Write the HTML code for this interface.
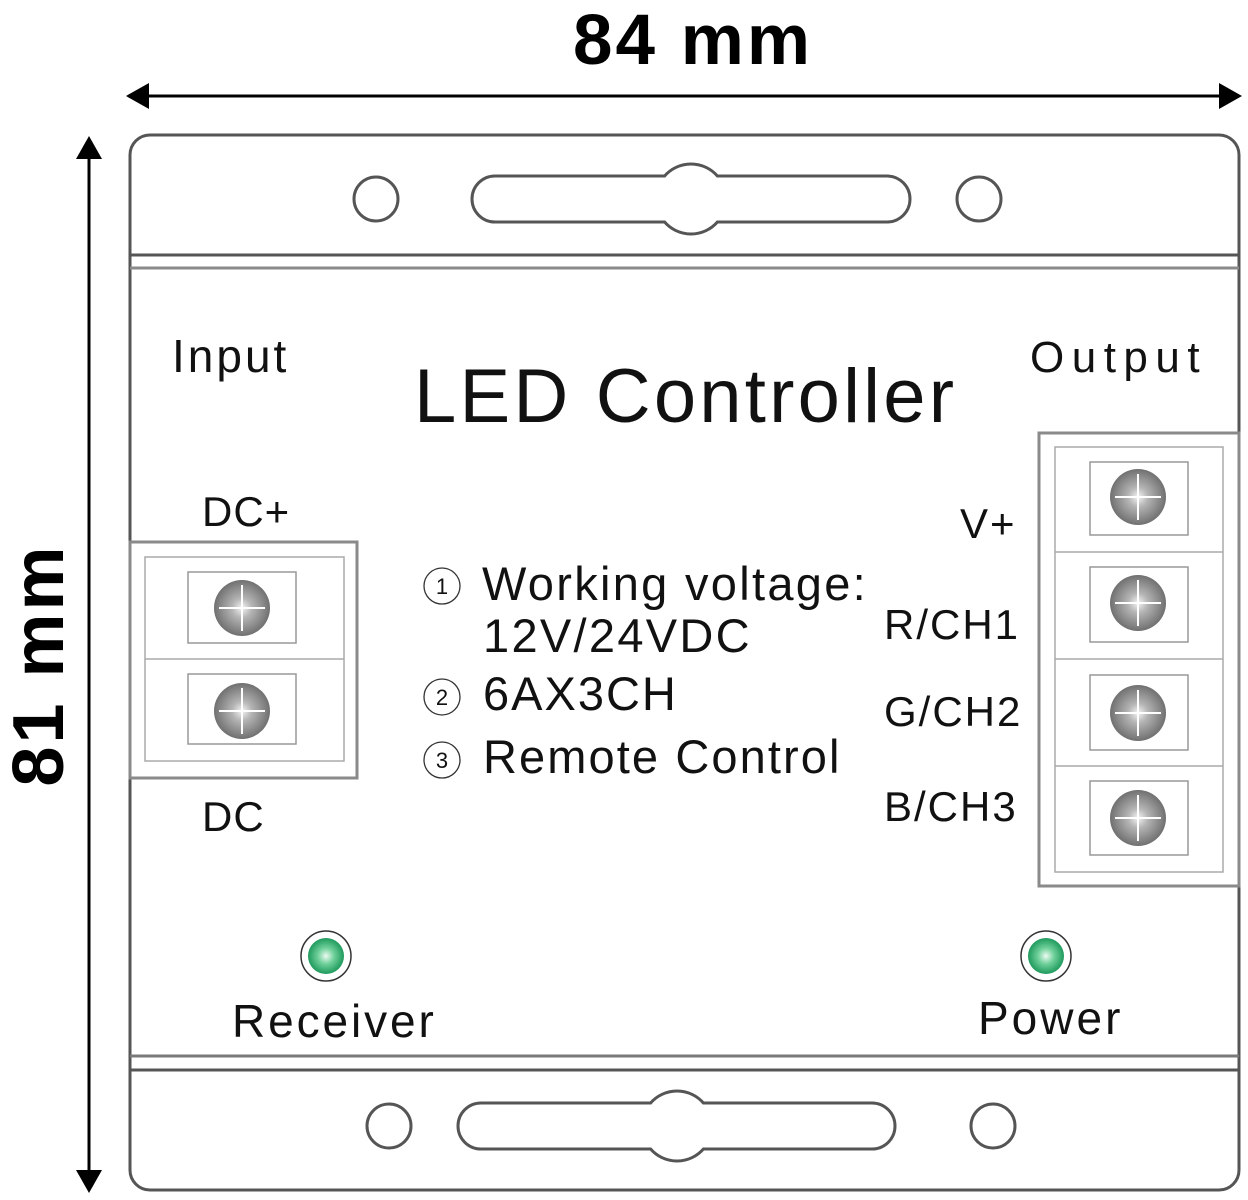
<!DOCTYPE html>
<html>
<head>
<meta charset="utf-8">
<style>
  html,body{margin:0;padding:0;background:#fff;}
  svg{display:block;}
  text{font-family:"Liberation Sans", Arial, sans-serif; fill:#111;}
</style>
</head>
<body>
<svg width="1248" height="1200" viewBox="0 0 1248 1200" xmlns="http://www.w3.org/2000/svg">
  <defs>
    <radialGradient id="screw" cx="50%" cy="50%" r="50%">
      <stop offset="0" stop-color="#f4f4f4"/>
      <stop offset="0.35" stop-color="#b5b5b5"/>
      <stop offset="1" stop-color="#707070"/>
    </radialGradient>
    <radialGradient id="led" cx="50%" cy="50%" r="50%">
      <stop offset="0" stop-color="#eefaf3"/>
      <stop offset="0.45" stop-color="#6fd09a"/>
      <stop offset="1" stop-color="#1e9a5c"/>
    </radialGradient>
  </defs>

  <!-- dimension text -->
  <text x="693" y="64" text-anchor="middle" font-size="71" font-weight="bold" letter-spacing="3" style="fill:#000">84 mm</text>
  <text transform="translate(63,665) rotate(-90)" text-anchor="middle" font-size="72" font-weight="bold" letter-spacing="3" style="fill:#000">81 mm</text>

  <!-- horizontal arrow -->
  <line x1="145" y1="96" x2="1222" y2="96" stroke="#000" stroke-width="3"/>
  <polygon points="126,96 149,83 149,109" fill="#000"/>
  <polygon points="1242,96 1219,83 1219,109" fill="#000"/>
  <!-- vertical arrow -->
  <line x1="89" y1="155" x2="89" y2="1175" stroke="#000" stroke-width="3"/>
  <polygon points="89,136 76,159 102,159" fill="#000"/>
  <polygon points="89,1193 76,1170 102,1170" fill="#000"/>

  <!-- body -->
  <rect x="130" y="135" width="1109" height="1055" rx="20" ry="20" fill="#fff" stroke="#555" stroke-width="3"/>
  <line x1="130" y1="255" x2="1239" y2="255" stroke="#555" stroke-width="3"/>
  <line x1="130" y1="268" x2="1239" y2="268" stroke="#8a8a8a" stroke-width="3"/>
  <line x1="130" y1="1056" x2="1239" y2="1056" stroke="#7a7a7a" stroke-width="3"/>
  <line x1="130" y1="1070" x2="1239" y2="1070" stroke="#555" stroke-width="3"/>

  <!-- top holes -->
  <circle cx="376" cy="199" r="22" fill="none" stroke="#555" stroke-width="3"/>
  <circle cx="979" cy="199" r="22" fill="none" stroke="#555" stroke-width="3"/>
  <path d="M495 176 L664.6 176 A35 35 0 0 1 717.4 176 L887 176 A23 23 0 0 1 887 222 L717.4 222 A35 35 0 0 1 664.6 222 L495 222 A23 23 0 0 1 495 176 Z" fill="none" stroke="#555" stroke-width="3"/>

  <!-- bottom holes -->
  <circle cx="389" cy="1126" r="22" fill="none" stroke="#555" stroke-width="3"/>
  <circle cx="993" cy="1126" r="22" fill="none" stroke="#555" stroke-width="3"/>
  <path d="M481 1103 L650.6 1103 A35 35 0 0 1 703.4 1103 L872 1103 A23 23 0 0 1 872 1149 L703.4 1149 A35 35 0 0 1 650.6 1149 L481 1149 A23 23 0 0 1 481 1103 Z" fill="none" stroke="#555" stroke-width="3"/>

  <!-- labels -->
  <text x="172" y="372" font-size="46" letter-spacing="3">Input</text>
  <text x="1030" y="372" font-size="44" letter-spacing="7.5">Output</text>
  <text x="414" y="422" font-size="76" letter-spacing="3.2">LED Controller</text>

  <!-- left terminal -->
  <rect x="130" y="542" width="227" height="236" fill="#fff" stroke="#8a8a8a" stroke-width="3"/>
  <rect x="145" y="557" width="199" height="204" fill="none" stroke="#aaa" stroke-width="1.5"/>
  <line x1="145" y1="659" x2="344" y2="659" stroke="#aaa" stroke-width="1.5"/>
  <rect x="188" y="572" width="108" height="71" fill="none" stroke="#999" stroke-width="1.5"/>
  <rect x="188" y="674" width="108" height="70" fill="none" stroke="#999" stroke-width="1.5"/>
  <g>
    <circle cx="242" cy="608" r="28" fill="url(#screw)"/>
    <line x1="219" y1="608" x2="265" y2="608" stroke="#fff" stroke-width="2"/>
    <line x1="242" y1="585" x2="242" y2="631" stroke="#fff" stroke-width="2"/>
    <circle cx="242" cy="711" r="28" fill="url(#screw)"/>
    <line x1="219" y1="711" x2="265" y2="711" stroke="#fff" stroke-width="2"/>
    <line x1="242" y1="688" x2="242" y2="734" stroke="#fff" stroke-width="2"/>
  </g>
  <text x="202" y="526" font-size="42" letter-spacing="1">DC+</text>
  <text x="202" y="831" font-size="42" letter-spacing="1">DC</text>

  <!-- right terminal -->
  <rect x="1039" y="433" width="200" height="453" fill="#fff" stroke="#8a8a8a" stroke-width="3"/>
  <rect x="1055" y="447" width="168" height="425" fill="none" stroke="#aaa" stroke-width="1.5"/>
  <line x1="1055" y1="552" x2="1223" y2="552" stroke="#aaa" stroke-width="1.5"/>
  <line x1="1055" y1="659" x2="1223" y2="659" stroke="#aaa" stroke-width="1.5"/>
  <line x1="1055" y1="766" x2="1223" y2="766" stroke="#aaa" stroke-width="1.5"/>
  <rect x="1090" y="462" width="98" height="73" fill="none" stroke="#999" stroke-width="1.5"/>
  <rect x="1090" y="567" width="98" height="75" fill="none" stroke="#999" stroke-width="1.5"/>
  <rect x="1090" y="675" width="98" height="75" fill="none" stroke="#999" stroke-width="1.5"/>
  <rect x="1090" y="781" width="98" height="74" fill="none" stroke="#999" stroke-width="1.5"/>
  <g>
    <circle cx="1138" cy="497" r="28" fill="url(#screw)"/>
    <line x1="1115" y1="497" x2="1161" y2="497" stroke="#fff" stroke-width="2"/>
    <line x1="1138" y1="474" x2="1138" y2="520" stroke="#fff" stroke-width="2"/>
    <circle cx="1138" cy="603" r="28" fill="url(#screw)"/>
    <line x1="1115" y1="603" x2="1161" y2="603" stroke="#fff" stroke-width="2"/>
    <line x1="1138" y1="580" x2="1138" y2="626" stroke="#fff" stroke-width="2"/>
    <circle cx="1138" cy="713" r="28" fill="url(#screw)"/>
    <line x1="1115" y1="713" x2="1161" y2="713" stroke="#fff" stroke-width="2"/>
    <line x1="1138" y1="690" x2="1138" y2="736" stroke="#fff" stroke-width="2"/>
    <circle cx="1138" cy="818" r="28" fill="url(#screw)"/>
    <line x1="1115" y1="818" x2="1161" y2="818" stroke="#fff" stroke-width="2"/>
    <line x1="1138" y1="795" x2="1138" y2="841" stroke="#fff" stroke-width="2"/>
  </g>
  <text x="960" y="538" font-size="42" letter-spacing="2">V+</text>
  <text x="884" y="639" font-size="42" letter-spacing="2">R/CH1</text>
  <text x="884" y="726" font-size="42" letter-spacing="2">G/CH2</text>
  <text x="884" y="821" font-size="42" letter-spacing="2">B/CH3</text>

  <!-- features list -->
  <circle cx="442" cy="586" r="18" fill="none" stroke="#333" stroke-width="1.3"/>
  <text x="442" y="594" font-size="22" text-anchor="middle">1</text>
  <circle cx="442" cy="697" r="18" fill="none" stroke="#333" stroke-width="1.3"/>
  <text x="442" y="705" font-size="22" text-anchor="middle">2</text>
  <circle cx="442" cy="760" r="18" fill="none" stroke="#333" stroke-width="1.3"/>
  <text x="442" y="768" font-size="22" text-anchor="middle">3</text>
  <text x="482" y="600" font-size="47" letter-spacing="2.3">Working voltage:</text>
  <text x="483" y="652" font-size="47" letter-spacing="2.3">12V/24VDC</text>
  <text x="483" y="710" font-size="47" letter-spacing="2">6AX3CH</text>
  <text x="483" y="773" font-size="47" letter-spacing="2.1">Remote Control</text>

  <!-- LEDs -->
  <circle cx="326" cy="956" r="25" fill="#fff" stroke="#333" stroke-width="1.5"/>
  <circle cx="326" cy="956" r="18" fill="url(#led)"/>
  <circle cx="1046" cy="956" r="25" fill="#fff" stroke="#333" stroke-width="1.5"/>
  <circle cx="1046" cy="956" r="18" fill="url(#led)"/>
  <text x="232" y="1037" font-size="46" letter-spacing="2.9">Receiver</text>
  <text x="978" y="1034" font-size="46" letter-spacing="3">Power</text>
</svg>
</body>
</html>
